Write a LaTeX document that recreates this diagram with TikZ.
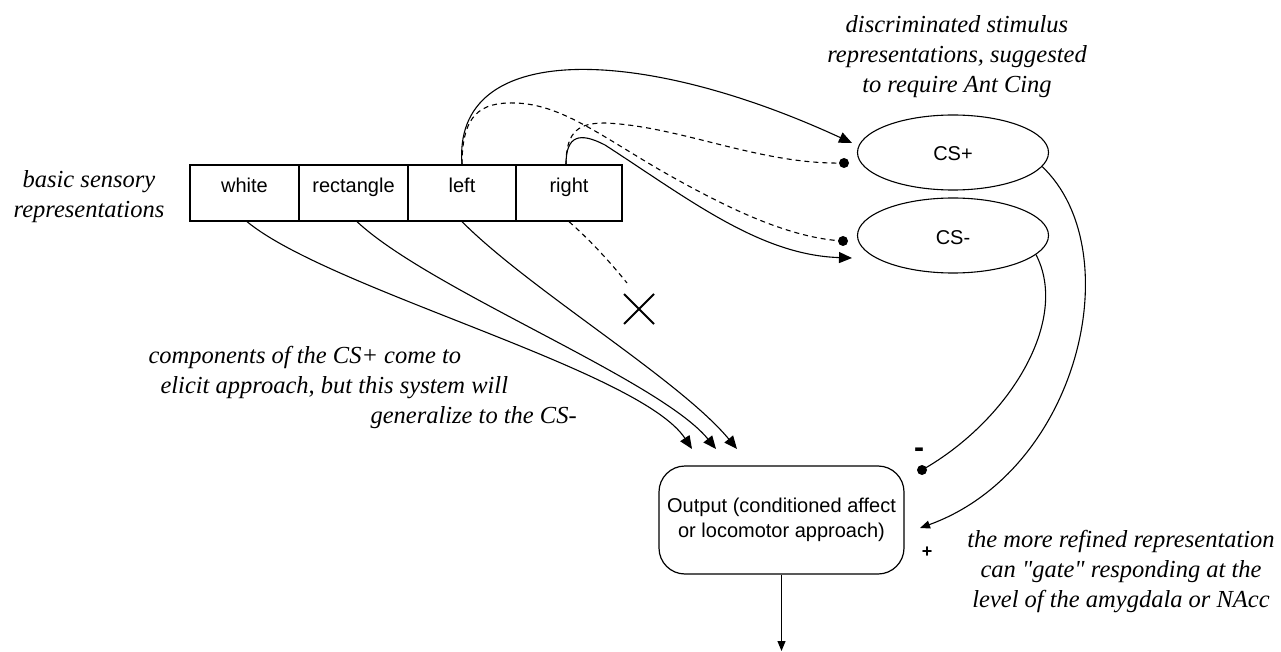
\documentclass[tikz,border=0pt]{standalone}
\usepackage{fontspec}
\setmainfont{Liberation Serif}
\setsansfont{Liberation Sans}
\newfontfamily\notefont{Liberation Serif}
\usetikzlibrary{arrows.meta,shapes.geometric}
\begin{document}
\begin{tikzpicture}[x=1pt,y=-1pt,line width=1.1pt,
  cell/.style={draw,line width=1.3pt,minimum width=#1,minimum height=56pt,inner sep=0pt,
    text height=14pt,text depth=14pt,font=\sffamily\fontsize{20}{25}\selectfont},
  csnode/.style={draw,ellipse,line width=1.1pt,minimum width=191pt,minimum height=75pt,inner sep=0pt,
    text height=17pt,text depth=0pt,font=\sffamily\fontsize{20}{25}\selectfont},
  outbox/.style={draw,line width=1.2pt,rounded corners=26pt,minimum width=245pt,minimum height=108pt,
    align=center,inner sep=0pt,font=\sffamily\fontsize{20}{25}\selectfont},
  note/.style={align=center,inner sep=0pt,font=\notefont\itshape\fontsize{24.5}{30}\selectfont},
  arr/.style={-{Triangle[length=13pt,width=11pt]}},
  arrs/.style={-{Triangle[length=10pt,width=8pt]}},
  dsh/.style={dash pattern=on 5pt off 4pt},
  dotf/.style={fill=black},
  sign/.style={inner sep=0pt,font=\sffamily\bfseries}
]
\useasboundingbox (0,0) rectangle (1281,652);

% cells
\node[cell=109pt] (white) at (244.5,193) {white};
\node[cell=109pt] (rect) at (353.5,193) {rectangle};
\node[cell=108pt] (left) at (462,193) {left};
\node[cell=106pt] (right) at (569,193) {right};

% ellipses
\node[csnode] (csp) at (953,152.5) {CS+};
\node[csnode] (csm) at (953,235.5) {CS-};

% output
\node[outbox] (out) at (781.5,520) {Output (conditioned affect\\or locomotor approach)};

% texts
\node[note] (basic) at (89,197) {basic sensory\\representations};
\node[note] (discr) at (957,56.5) {discriminated stimulus\\representations, suggested\\to require Ant Cing};
\node[note,align=left,anchor=north west] (comp) at (148,346)
  {components of the CS+ come to\\\hspace*{12pt}elicit approach, but this system will\\\hspace*{222pt}generalize to the CS-};
\node[note] (refined) at (1121,571.5) {the more refined representation\\can "gate" responding at the\\level of the amygdala or NAcc};

% coordinates
\coordinate (tipP) at (852,143);
\coordinate (tipM) at (852,258);
\coordinate (dotp) at (844,163);
\coordinate (dotm) at (843,241);
\coordinate (outA) at (692,449);
\coordinate (outB) at (716,449);
\coordinate (outC) at (737,449);
\coordinate (xend) at (627,283);
\coordinate (plusTip) at (920,528);
\coordinate (minusDot) at (922,470);
\coordinate (downEnd) at (781.5,651);

% to CS+ / CS-
\draw[arr] (left.north) .. controls (452,40) and (640,45) .. (tipP);
\draw[dsh] (left.north) .. controls (462,115) and (480,102) .. (515,103)
  .. controls (560,104) and (600,135) .. (660,170)
  .. controls (730,210) and (790,238) .. (dotm);
\draw[dsh] ([xshift=-3pt]right.north) .. controls (566,130) and (580,123) .. (605,123)
  .. controls (680,126) and (760,165) .. (dotp);
\draw[arr] ([xshift=-3pt]right.north) .. controls (566,135) and (580,132) .. (605,145)
  .. controls (690,200) and (760,255) .. (tipM);
\fill[dotf] (dotp) circle (5pt);
\fill[dotf] (dotm) circle (5pt);

% to output
\draw[arr] ([xshift=2.5pt]white.south) .. controls (330,290) and (640,370) .. (outA);
\draw[arr] ([xshift=3.5pt]rect.south) .. controls (430,290) and (660,380) .. (outB);
\draw[arr] (left.south) .. controls (530,290) and (680,380) .. (outC);
\draw[dsh] (right.south) .. controls (590,240) and (610,262) .. (xend);
\draw[line width=2pt] (624,294) -- (654,324) (624,324) -- (654,294);

% gating
\draw[arrs] (csp.-9) .. controls (1130,250) and (1080,470) .. (plusTip);
\draw (csm.-13) .. controls (1070,320) and (1010,420) .. (minusDot);
\fill[dotf] (minusDot) circle (5pt);
\node[sign,font=\sffamily\bfseries\fontsize{30}{30}\selectfont] (minus) at (919,453) {-};
\node[sign,font=\sffamily\bfseries\fontsize{18}{20}\selectfont] (plus) at (927,552) {+};

% output arrow
\draw[arrs] (out.south) -- (downEnd);
\end{tikzpicture}
\end{document}
